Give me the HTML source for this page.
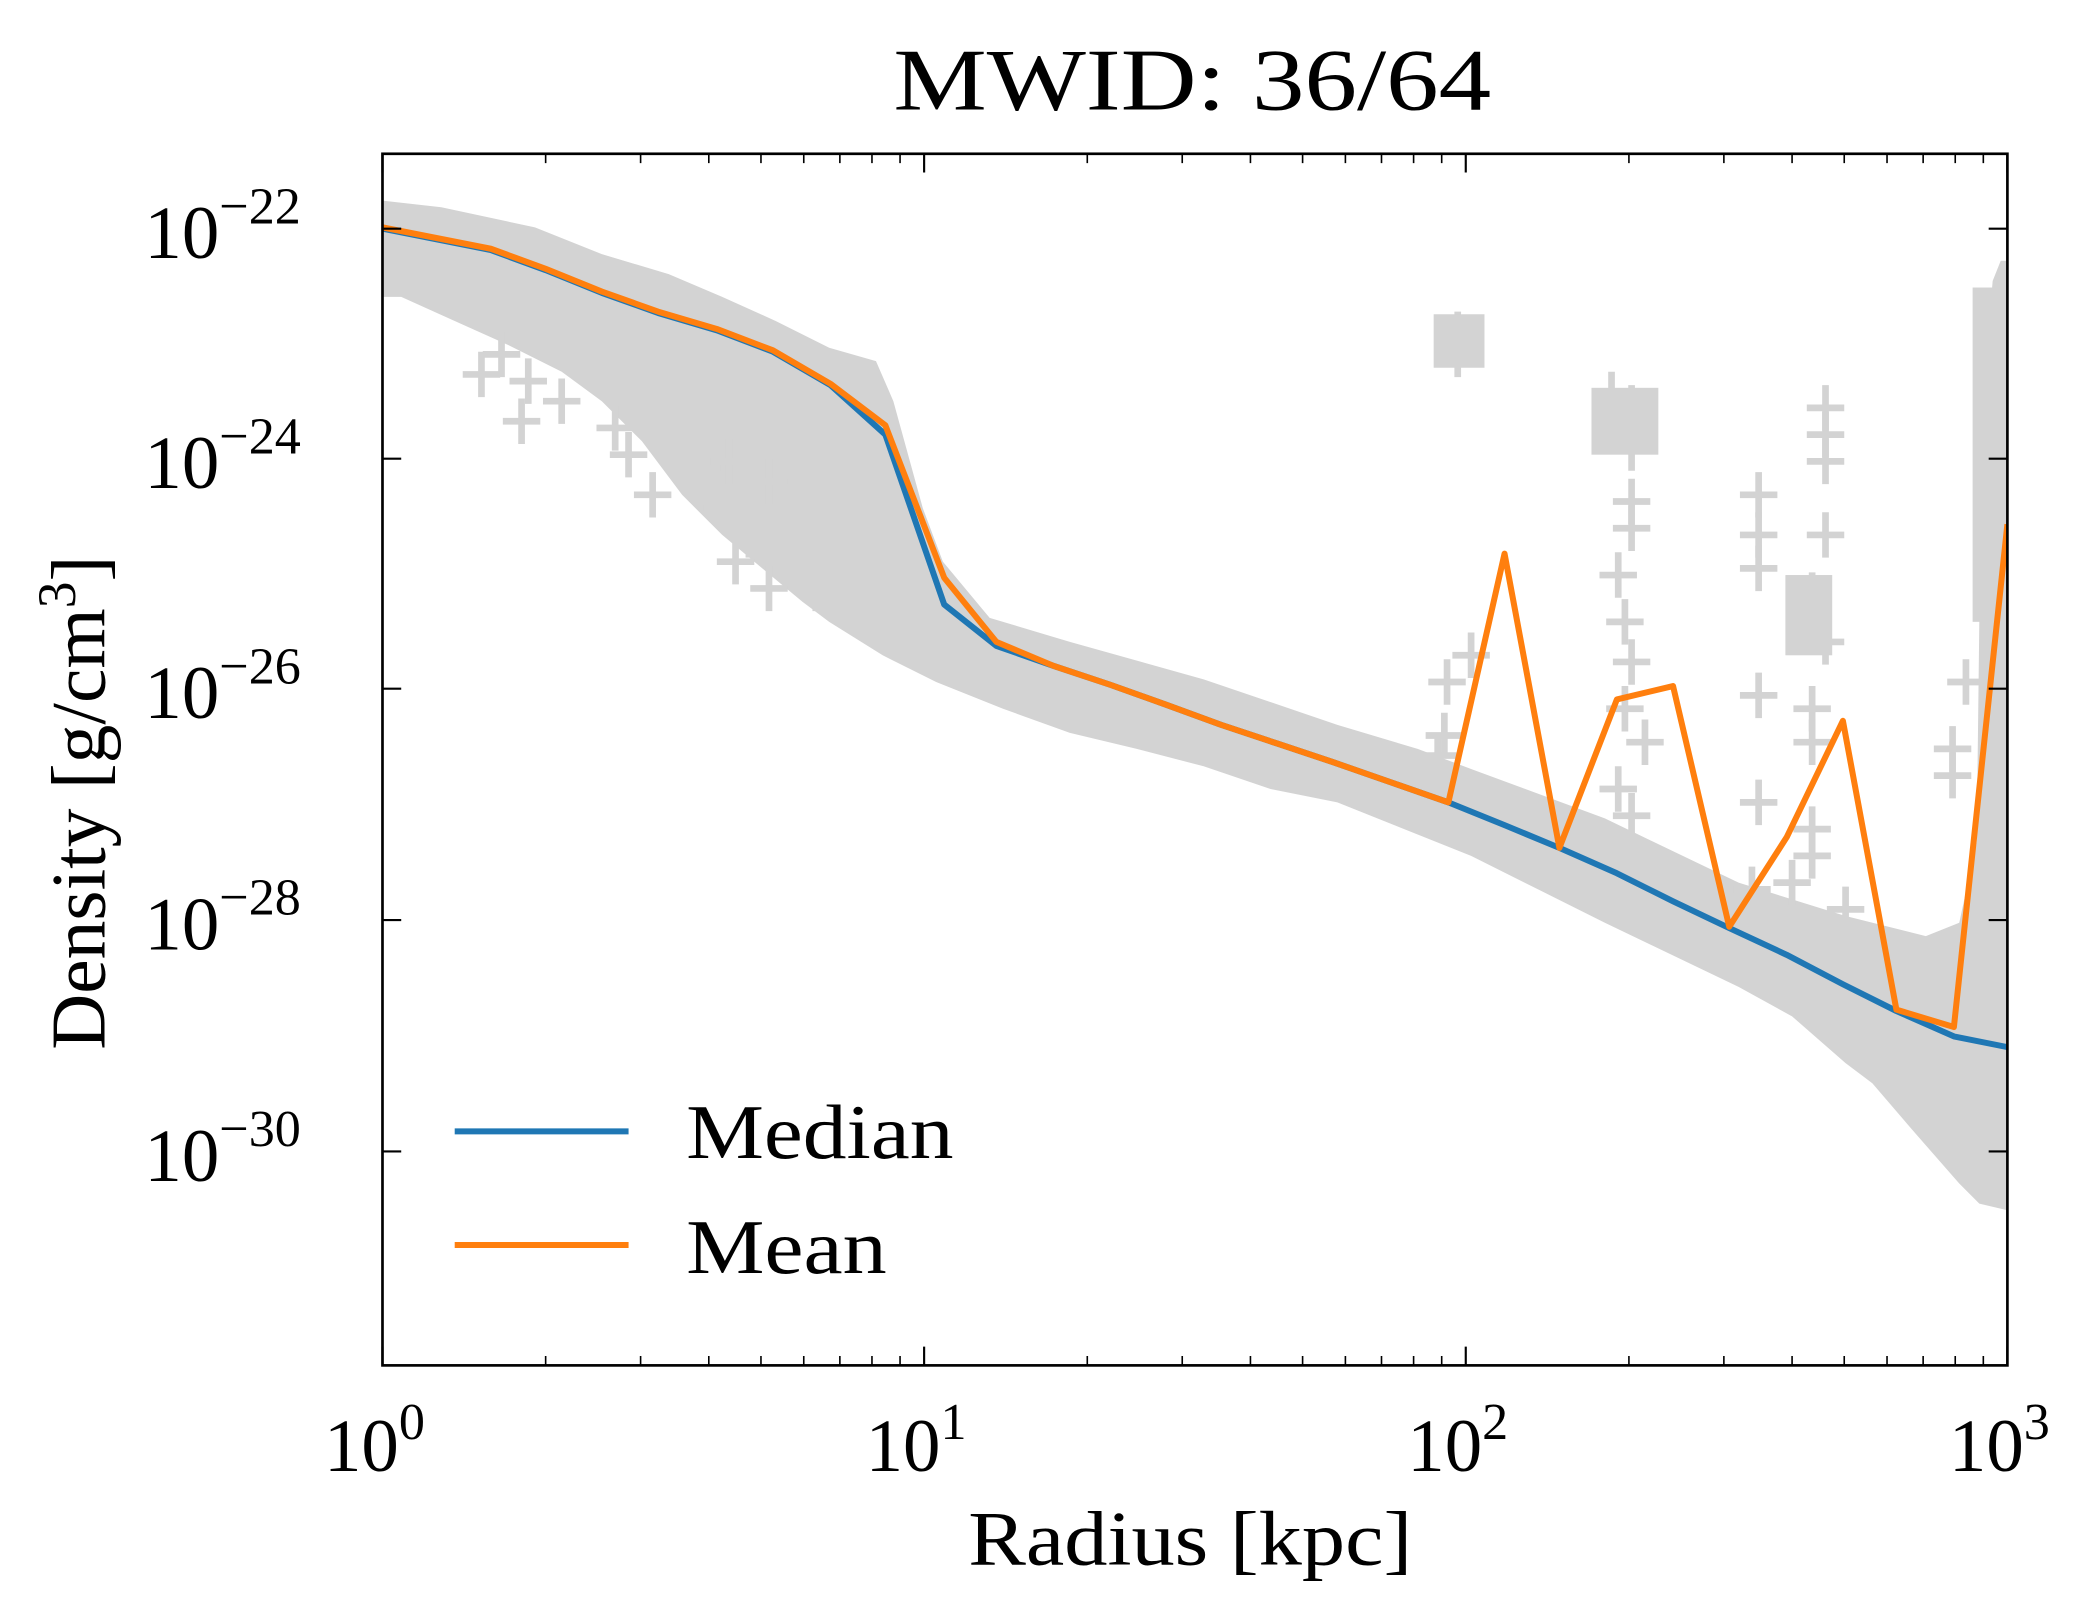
<!DOCTYPE html>
<html><head><meta charset="utf-8"><style>
html,body{margin:0;padding:0;background:#fff}
svg{display:block}
text{font-family:"Liberation Serif",serif;fill:#000}
</style></head><body>
<svg width="2097" height="1616" viewBox="0 0 1568 1208.4" preserveAspectRatio="none" xmlns="http://www.w3.org/2000/svg">
<defs>
<clipPath id="c"><rect x="286" y="115" width="1215" height="906"/></clipPath>
<path id="p" d="M-14,0H14M0,-17V17" stroke="#d3d3d3" stroke-width="5" fill="none"/>
</defs>
<g clip-path="url(#c)">
<polygon fill="#d3d3d3" points="286,150 330,155 400,170 450,190 500,205 540,222 580,240 620,260 655,270 668,300 690,380 705,420 740,462 800,480 900,508 1000,542 1060,560 1100,575 1200,612 1300,660 1380,685 1440,700 1465,690 1478,630 1482,300 1490,210 1496,195 1501,195 1501,905 1480,900 1465,885 1430,845 1400,810 1380,795 1340,760 1300,738 1200,690 1100,640 1000,600 950,590 900,573 850,560 800,548 750,530 700,510 660,490 620,465 600,450 570,425 540,400 510,370 480,330 450,300 420,278 380,258 340,240 300,222 286,222"/>
<g>
<use href="#p" x="375" y="265"/><use href="#p" x="395" y="285"/><use href="#p" x="360" y="280"/><use href="#p" x="390" y="315"/><use href="#p" x="420" y="300"/><use href="#p" x="460" y="320"/><use href="#p" x="470" y="340"/><use href="#p" x="488" y="370"/><use href="#p" x="500" y="330"/><use href="#p" x="525" y="350"/><use href="#p" x="540" y="380"/><use href="#p" x="560" y="400"/><use href="#p" x="575" y="360"/><use href="#p" x="590" y="410"/><use href="#p" x="610" y="390"/><use href="#p" x="625" y="420"/><use href="#p" x="550" y="420"/><use href="#p" x="575" y="440"/><use href="#p" x="610" y="440"/><use href="#p" x="530" y="310"/><use href="#p" x="545" y="345"/>
<use href="#p" x="1090" y="250"/><use href="#p" x="1090" y="265"/><use href="#p" x="1082" y="510"/><use href="#p" x="1100" y="490"/><use href="#p" x="1080" y="550"/><use href="#p" x="1075" y="565"/>
<use href="#p" x="1205" y="295"/><use href="#p" x="1220" y="305"/><use href="#p" x="1205" y="320"/><use href="#p" x="1220" y="335"/><use href="#p" x="1220" y="375"/><use href="#p" x="1220" y="395"/><use href="#p" x="1210" y="430"/><use href="#p" x="1215" y="465"/><use href="#p" x="1220" y="495"/><use href="#p" x="1210" y="590"/><use href="#p" x="1220" y="610"/><use href="#p" x="1215" y="530"/><use href="#p" x="1230" y="555"/>
<use href="#p" x="1315" y="370"/><use href="#p" x="1315" y="400"/><use href="#p" x="1315" y="425"/><use href="#p" x="1365" y="305"/><use href="#p" x="1365" y="325"/><use href="#p" x="1365" y="345"/><use href="#p" x="1365" y="400"/><use href="#p" x="1355" y="445"/><use href="#p" x="1355" y="470"/><use href="#p" x="1365" y="480"/><use href="#p" x="1355" y="530"/><use href="#p" x="1355" y="555"/><use href="#p" x="1315" y="520"/><use href="#p" x="1315" y="600"/><use href="#p" x="1355" y="620"/><use href="#p" x="1355" y="640"/><use href="#p" x="1460" y="560"/><use href="#p" x="1460" y="580"/><use href="#p" x="1470" y="510"/><use href="#p" x="1310" y="665"/><use href="#p" x="1380" y="680"/><use href="#p" x="1340" y="660"/>
<rect x="1072" y="235" width="38" height="40" fill="#d3d3d3"/><rect x="1190" y="290" width="50" height="50" fill="#d3d3d3"/><rect x="1335" y="430" width="35" height="60" fill="#d3d3d3"/><rect x="1475" y="215" width="26" height="250" fill="#d3d3d3"/>
</g>
<polyline fill="none" stroke="#1f77b4" stroke-width="4.5" stroke-linejoin="round" points="286,171 367,187 408,202 450,219 492,234 536,247 578,263 621,288 662,325 706,452 745,483 788,498 830,512 872,527 913,542 955,556 997,570 1040,585 1083,600 1125,617 1166,634 1209,653 1251,674 1293,694 1336,714 1378,736 1418,756 1461,775 1501,783"/>
<polyline fill="none" stroke="#ff7f0e" stroke-width="4.5" stroke-linejoin="round" points="286,170 367,186 408,201 450,218 492,233 536,246 578,262 621,287 662,318 706,432 745,480 788,498 830,512 872,527 913,542 955,556 997,570 1040,585 1083,600 1125,414 1166,634 1209,523 1251,513 1293,693 1336,626 1378,539 1418,755 1461,768 1501,392"/>
</g>
<rect x="286" y="115" width="1215" height="906" fill="none" stroke="#000" stroke-width="2"/>
<g stroke="#000" stroke-width="1.6">
<path d="M286,1021v-14M691,1021v-14M1096,1021v-14M1501,1021v-14M286,115v14M691,115v14M1096,115v14M1501,115v14"/>
<path d="M286,171h14M286,343h14M286,515h14M286,688h14M286,861h14M1501,171h-14M1501,343h-14M1501,515h-14M1501,688h-14M1501,861h-14"/>
<path stroke-width="1.2" d="M408,1021v-7M479,1021v-7M530,1021v-7M569,1021v-7M601,1021v-7M628,1021v-7M652,1021v-7M673,1021v-7M813,1021v-7M884,1021v-7M935,1021v-7M974,1021v-7M1006,1021v-7M1033,1021v-7M1057,1021v-7M1078,1021v-7M1218,1021v-7M1289,1021v-7M1340,1021v-7M1379,1021v-7M1411,1021v-7M1438,1021v-7M1462,1021v-7M1483,1021v-7 M408,115v7M479,115v7M530,115v7M569,115v7M601,115v7M628,115v7M652,115v7M673,115v7M813,115v7M884,115v7M935,115v7M974,115v7M1006,115v7M1033,115v7M1057,115v7M1078,115v7M1218,115v7M1289,115v7M1340,115v7M1379,115v7M1411,115v7M1438,115v7M1462,115v7M1483,115v7"/>
</g>
<text x="668" y="82" font-size="66" textLength="447" lengthAdjust="spacingAndGlyphs">MWID: 36/64</text>
<g font-size="56">
<text x="108" y="193">10<tspan dy="-26" font-size="39">−22</tspan></text>
<text x="108" y="365">10<tspan dy="-26" font-size="39">−24</tspan></text>
<text x="108" y="537">10<tspan dy="-26" font-size="39">−26</tspan></text>
<text x="108" y="710">10<tspan dy="-26" font-size="39">−28</tspan></text>
<text x="108" y="883">10<tspan dy="-26" font-size="39">−30</tspan></text>
</g>
<g font-size="56" text-anchor="middle">
<text x="280" y="1100">10<tspan dy="-24" font-size="39">0</tspan></text>
<text x="685" y="1100">10<tspan dy="-24" font-size="39">1</tspan></text>
<text x="1090" y="1100">10<tspan dy="-24" font-size="39">2</tspan></text>
<text x="1495" y="1100">10<tspan dy="-24" font-size="39">3</tspan></text>
</g>
<text x="724" y="1170" font-size="58" textLength="332" lengthAdjust="spacingAndGlyphs">Radius [kpc]</text>
<text transform="translate(78,785) rotate(-90)" font-size="58">Density [g/cm<tspan dy="-22" font-size="40">3</tspan><tspan dy="22">]</tspan></text>
<line x1="340" y1="846" x2="470" y2="846" stroke="#1f77b4" stroke-width="4.5"/>
<line x1="340" y1="931" x2="470" y2="931" stroke="#ff7f0e" stroke-width="4.5"/>
<text x="513" y="866" font-size="58" textLength="200" lengthAdjust="spacingAndGlyphs">Median</text>
<text x="513" y="952" font-size="58" textLength="150" lengthAdjust="spacingAndGlyphs">Mean</text>
</svg>
</body></html>
